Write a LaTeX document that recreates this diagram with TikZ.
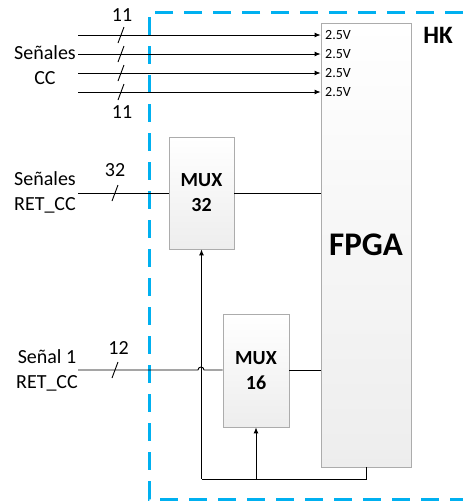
\documentclass[tikz,border=0pt]{standalone}
\usepackage{fontspec}
\setmainfont{Carlito}
\usetikzlibrary{arrows.meta,shadows}
\definecolor{hkblue}{RGB}{0,176,240}
\begin{document}
\begin{tikzpicture}[x=1pt,y=1pt,
  blockbox/.style={draw=gray!65,line width=0.8pt,top color=white,bottom color=gray!14,
    drop shadow={shadow xshift=1.3pt,shadow yshift=-1.3pt,fill=gray!45,opacity=0.6},
    inner sep=0pt,align=center,font=\bfseries\fontsize{20}{25}\selectfont},
  lbl/.style={font=\fontsize{20}{25}\selectfont,align=center,inner sep=0pt},
  vlbl/.style={font=\fontsize{14}{16}\selectfont,anchor=west,inner sep=0pt},
  wire/.style={line width=0.9pt,black},
  arr/.style={wire,-{Latex[length=6pt,width=5pt]}},
  slash/.style={line width=0.9pt,black},
  hkbox/.style={hkblue,line width=3pt,dash pattern=on 18pt off 11pt}]
\useasboundingbox (0,0) rectangle (463,-501);
\fill[white] (0,0) rectangle (463,-501);

% HK dashed frame
\draw[hkbox] (463,-12) -- (149,-12) -- (149,-499) -- (463,-499);
\node[font=\bfseries\fontsize{25}{28}\selectfont,inner sep=0pt] (hk) at (438,-35) {HK};

% blocks
\node[blockbox,minimum width=90pt,minimum height=444pt,font=\bfseries\fontsize{33}{36}\selectfont] (fpga) at (366,-245) {FPGA};
\node[blockbox,minimum width=65pt,minimum height=112pt] (mux32) at (201.5,-193) {MUX\\32};
\node[blockbox,minimum width=66pt,minimum height=113pt] (mux16) at (256,-370.5) {MUX\\16};

% 2.5V labels
\node[vlbl] (v1) at (325,-35) {2.5V};
\node[vlbl] (v2) at (325,-54) {2.5V};
\node[vlbl] (v3) at (325,-73) {2.5V};
\node[vlbl] (v4) at (325,-92) {2.5V};

% input labels
\node[lbl] (lcc) at (45,-65) {Señales\\CC};
\node[lbl] (lret) at (45,-192.5) {Señales\\RET\_CC};
\node[lbl] (lret1) at (47,-370) {Señal 1\\RET\_CC};

% CC inputs
\coordinate (c1) at (78,-35);
\coordinate (c2) at (78,-54);
\coordinate (c3) at (78,-73);
\coordinate (c4) at (78,-92);
\draw[arr] (c1) -- (c1 -| fpga.west);
\draw[arr] (c2) -- (c2 -| fpga.west);
\draw[arr] (c3) -- (c3 -| fpga.west);
\draw[arr] (c4) -- (c4 -| fpga.west);
\foreach \yy in {-35,-54,-73,-92}{\draw[slash] (118,\yy-8) -- (124,\yy+8);}
\node[lbl] (n11a) at (122,-15) {11};
\node[lbl] (n11b) at (122,-112) {11};

% RET_CC into MUX32
\coordinate (r1) at (78,-193);
\draw[wire] (r1) -- (r1 -| mux32.west);
\draw[wire] (mux32.east) -- (mux32.east -| fpga.west);
\draw[slash] (112,-201) -- (118,-185);
\node[lbl] (n32) at (115,-170) {32};

% Señal 1 into MUX16 with hop
\coordinate (s1) at (78,-370);
\draw[wire] (s1) -- (198,-370) arc[start angle=180,end angle=0,radius=3pt] -- (s1 -| mux16.west);
\draw[wire] (mux16.east) -- (mux16.east -| fpga.west);
\draw[slash] (112,-378) -- (118,-362);
\node[lbl] (n12) at (118.5,-348) {12};

% control feedback
\coordinate (fb) at (366,-479);
\coordinate (fbl) at (201.5,-479);
\coordinate (fbm) at (256,-479);
\draw[wire] (fpga.south) -- (fb) -- (fbl);
\draw[arr] (fbl) -- (mux32.south);
\draw[arr] (fbm) -- (mux16.south);
\end{tikzpicture}
\end{document}
